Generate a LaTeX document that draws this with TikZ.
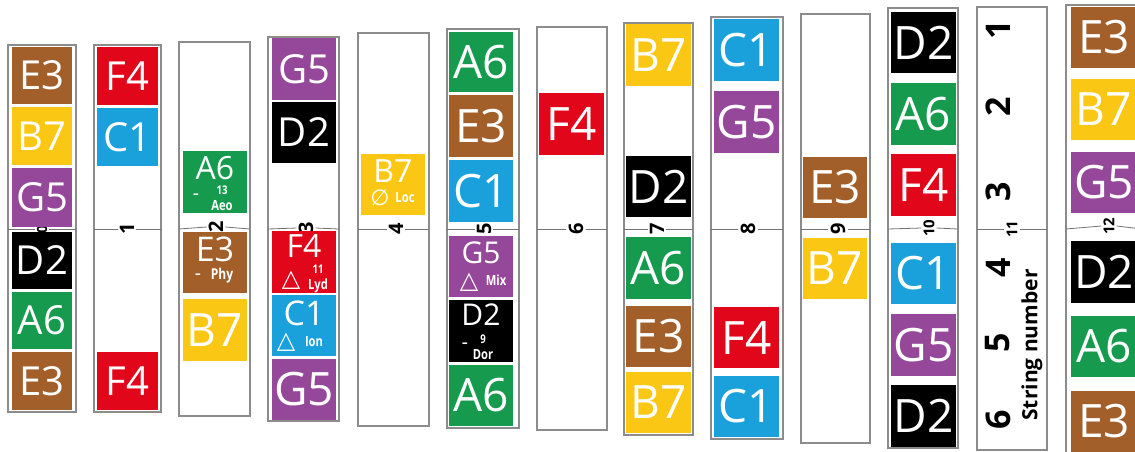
\documentclass[tikz,border=0pt]{standalone}
\usepackage{fontspec}
\setmainfont{Open Sans}
\newfontfamily\annfont[FakeStretch=0.8]{Open Sans}
\newfontfamily\symfont{DejaVu Sans}
\usetikzlibrary{positioning}

\definecolor{noteE}{RGB}{163,95,42}
\definecolor{noteB}{RGB}{250,200,20}
\definecolor{noteG}{RGB}{149,72,153}
\definecolor{noteD}{RGB}{0,0,0}
\definecolor{noteA}{RGB}{22,155,78}
\definecolor{noteF}{RGB}{226,6,26}
\definecolor{noteC}{RGB}{26,160,219}

\tikzset{
  strip/.style={draw=black!45, line width=1.1pt, fill=white},
  cell/.style={rectangle, inner sep=0pt, text=white},
  mid/.style={font=\fontsize{40}{40}\selectfont},
  big/.style={font=\fontsize{46}{46}\selectfont},
  small/.style={text=white, inner sep=0pt, font=\fontsize{32}{32}\selectfont},
  annot/.style={text=white, inner sep=0pt, font=\annfont\bfseries\fontsize{14}{14}\selectfont},
  stack/.style={annot, align=center},
  sym/.style={text=white, inner sep=0pt, font=\symfont\fontsize{24}{24}\selectfont},
  fret/.style={rotate=90, inner sep=2pt, font=\bfseries\fontsize{20}{20}\selectfont},
  fretsm/.style={rotate=90, inner sep=2pt, font=\bfseries\fontsize{15}{15}\selectfont},
  strnum/.style={rotate=90, inner sep=0pt, font=\bfseries\fontsize{34}{34}\selectfont},
  fretline/.style={draw=black!55, line width=0.8pt},
}
\newcommand\upper[1]{{\fontsize{12}{12}\selectfont #1}}

\begin{document}
\begin{tikzpicture}[x=1pt, y=-1pt]
    \useasboundingbox (0,0) rectangle (1135,451);
    \clip (0,0) rectangle (1135,451);

    % Strips
    \draw[strip] (8,45) rectangle (76,412);
    \draw[strip] (94,45) rectangle (161,412);
    \draw[strip] (179,42) rectangle (250,416);
    \draw[strip] (268,37) rectangle (339,421);
    \draw[strip] (358,33) rectangle (429,426);
    \draw[strip] (447,29) rectangle (519,428);
    \draw[strip] (537,27) rectangle (607,430);
    \draw[strip] (624,23) rectangle (693,435);
    \draw[strip] (711,17) rectangle (783,439);
    \draw[strip] (801,14) rectangle (870,443);
    \draw[strip] (888,8) rectangle (958,448);
    \draw[strip] (977,7) rectangle (1047,450);
    \draw[strip] (1066,5) rectangle (1142,460);

    % Fret numbers on the middle line
    \node[fret, font=\bfseries\fontsize{14}{14}\selectfont] (f0) at (42,229) {0};
    \node[fret] (f1) at (127,229) {1};
    \node[fret] (f2) at (216,227) {2};
    \node[fret] (f3) at (306,228) {3};
    \node[fret] (f4) at (396,229) {4};
    \node[fret] (f5) at (484,229) {5};
    \node[fret] (f6) at (576,229) {6};
    \node[fret] (f7) at (657,229) {7};
    \node[fret] (f8) at (748,229) {8};
    \node[fret] (f9) at (838,229) {9};
    \node[fretsm] (f10) at (929,228) {10};
    \node[fretsm] (f11) at (1012,229) {11};
    \node[fretsm] (f12) at (1109,226) {12};

    \draw[fretline] (8,229) -- (f0.north);   \draw[fretline] (f0.south) -- (76,229);
    \draw[fretline] (94,229) -- (f1.north);  \draw[fretline] (f1.south) -- (161,229);
    \draw[fretline] (179,229) -- (f2.north); \draw[fretline] (f2.south) -- (250,229);
    \draw[fretline] (268,229) -- (f3.north); \draw[fretline] (f3.south) -- (339,229);
    \draw[fretline] (358,229) -- (f4.north); \draw[fretline] (f4.south) -- (429,229);
    \draw[fretline] (447,229) -- (f5.north); \draw[fretline] (f5.south) -- (519,229);
    \draw[fretline] (537,229) -- (f6.north); \draw[fretline] (f6.south) -- (607,229);
    \draw[fretline] (624,229) -- (f7.north); \draw[fretline] (f7.south) -- (693,229);
    \draw[fretline] (711,229) -- (f8.north); \draw[fretline] (f8.south) -- (783,229);
    \draw[fretline] (801,229) -- (f9.north); \draw[fretline] (f9.south) -- (870,229);
    \draw[fretline] (888,229) -- (f10.north); \draw[fretline] (f10.south) -- (958,229);
    \draw[fretline] (977,229) -- (f11.north); \draw[fretline] (f11.south) -- (1047,229);
    \draw[fretline] (1066,229) -- (f12.north); \draw[fretline] (f12.south) -- (1142,229);

    % Fret 0
    \node[cell, mid, fill=noteE, minimum width=60, minimum height=57] (c0a) at (42,75.5) {E3};
    \node[cell, mid, fill=noteB, minimum width=60, minimum height=58] (c0b) at (42,136) {B7};
    \node[cell, mid, fill=noteG, minimum width=60, minimum height=59] (c0c) at (42,197.5) {G5};
    \node[cell, mid, fill=noteD, minimum width=60, minimum height=57] (c0d) at (42,260.5) {D2};
    \node[cell, mid, fill=noteA, minimum width=60, minimum height=57] (c0e) at (42,320.5) {A6};
    \node[cell, mid, fill=noteE, minimum width=60, minimum height=58] (c0f) at (42,381) {E3};

    % Fret 1
    \node[cell, mid, fill=noteF, minimum width=61, minimum height=58] (c1a) at (127.5,76) {F4};
    \node[cell, mid, fill=noteC, minimum width=61, minimum height=58] (c1b) at (127.5,137) {C1};
    \node[cell, mid, fill=noteF, minimum width=61, minimum height=58] (c1c) at (127.5,381) {F4};

    % Fret 2
    \node[cell, fill=noteA, minimum width=64, minimum height=62] (c2a) at (215,182) {};
    \node[small] (c2a-t) at (215,168) {A6};
    \node[annot] (c2a-d) at (196,196) {–};
    \node[stack] (c2a-m) at (222,198) {\upper{13}\\[2pt]Aeo};
    \node[cell, fill=noteE, minimum width=64, minimum height=61] (c2b) at (215,262.5) {};
    \node[small, font=\fontsize{34}{34}\selectfont] (c2b-t) at (215,249) {E3};
    \node[annot] (c2b-d) at (198,276) {–};
    \node[annot, font=\annfont\bfseries\fontsize{15}{15}\selectfont] (c2b-m) at (222,276) {Phy};
    \node[cell, big, fill=noteB, minimum width=64, minimum height=62] (c2c) at (215,330) {B7};

    % Fret 3
    \node[cell, mid, fill=noteG, minimum width=64, minimum height=62] (c3a) at (304,69) {G5};
    \node[cell, mid, fill=noteD, minimum width=64, minimum height=61] (c3b) at (304,132.5) {D2};
    \node[cell, fill=noteF, minimum width=64, minimum height=62] (c3c) at (304,262) {};
    \node[small] (c3c-t) at (304,246) {F4};
    \node[sym] (c3c-s) at (291,280) {△};
    \node[stack] (c3c-m) at (318,279) {\upper{11}\\[2pt]Lyd};
    \node[cell, fill=noteC, minimum width=64, minimum height=61] (c3d) at (304,325.5) {};
    \node[small, font=\fontsize{34}{34}\selectfont] (c3d-t) at (304,313) {C1};
    \node[sym] (c3d-s) at (286,342) {△};
    \node[annot] (c3d-m) at (314,342) {Ion};
    \node[cell, big, fill=noteG, minimum width=64, minimum height=61] (c3e) at (304,389.5) {G5};

    % Fret 4
    \node[cell, fill=noteB, minimum width=64, minimum height=61] (c4a) at (393,184.5) {};
    \node[small] (c4a-t) at (393,171) {B7};
    \node[sym, font=\symfont\fontsize{22}{22}\selectfont] (c4a-s) at (380,198) {∅};
    \node[annot] (c4a-m) at (405,198) {Loc};

    % Fret 5
    \node[cell, big, fill=noteA, minimum width=64, minimum height=60] (c5a) at (481,62) {A6};
    \node[cell, big, fill=noteE, minimum width=64, minimum height=62] (c5b) at (481,126) {E3};
    \node[cell, big, fill=noteC, minimum width=64, minimum height=62] (c5c) at (481,191) {C1};
    \node[cell, fill=noteG, minimum width=64, minimum height=61] (c5d) at (481,266.5) {};
    \node[small, font=\fontsize{30}{30}\selectfont] (c5d-t) at (481,253) {G5};
    \node[sym] (c5d-s) at (469,282) {△};
    \node[annot] (c5d-m) at (496,280) {Mix};
    \node[cell, fill=noteD, minimum width=64, minimum height=62] (c5e) at (481,331) {};
    \node[small, font=\fontsize{30}{30}\selectfont] (c5e-t) at (481,315) {D2};
    \node[annot] (c5e-d) at (465,345) {–};
    \node[stack] (c5e-m) at (483,347) {\upper{9}\\[2pt]Dor};
    \node[cell, big, fill=noteA, minimum width=64, minimum height=61] (c5f) at (481,395.5) {A6};

    % Fret 6
    \node[cell, big, fill=noteF, minimum width=65, minimum height=62] (c6a) at (571.5,124) {F4};

    % Fret 7
    \node[cell, big, fill=noteB, minimum width=65, minimum height=62] (c7a) at (658.5,55) {B7};
    \node[cell, big, fill=noteD, minimum width=65, minimum height=61] (c7b) at (658.5,186.5) {D2};
    \node[cell, big, fill=noteA, minimum width=65, minimum height=62] (c7c) at (658.5,268) {A6};
    \node[cell, big, fill=noteE, minimum width=65, minimum height=61] (c7d) at (658.5,336.5) {E3};
    \node[cell, big, fill=noteB, minimum width=65, minimum height=61] (c7e) at (658.5,402.5) {B7};

    % Fret 8
    \node[cell, big, fill=noteC, minimum width=65, minimum height=62] (c8a) at (746.5,50) {C1};
    \node[cell, big, fill=noteG, minimum width=65, minimum height=62] (c8b) at (746.5,122) {G5};
    \node[cell, big, fill=noteF, minimum width=65, minimum height=61] (c8c) at (746.5,337.5) {F4};
    \node[cell, big, fill=noteC, minimum width=65, minimum height=61] (c8d) at (746.5,406.5) {C1};

    % Fret 9
    \node[cell, big, fill=noteE, minimum width=64, minimum height=61] (c9a) at (835,187.5) {E3};
    \node[cell, big, fill=noteB, minimum width=64, minimum height=61] (c9b) at (835,268.5) {B7};

    % Fret 10
    \node[cell, big, fill=noteD, minimum width=65, minimum height=61] (c10a) at (923.5,42.5) {D2};
    \node[cell, big, fill=noteA, minimum width=65, minimum height=62] (c10b) at (923.5,114) {A6};
    \node[cell, big, fill=noteF, minimum width=65, minimum height=62] (c10c) at (923.5,185) {F4};
    \node[cell, big, fill=noteC, minimum width=65, minimum height=61] (c10d) at (923.5,273.5) {C1};
    \node[cell, big, fill=noteG, minimum width=65, minimum height=62] (c10e) at (923.5,345) {G5};
    \node[cell, big, fill=noteD, minimum width=65, minimum height=62] (c10f) at (923.5,416) {D2};

    % String numbers
    \node[strnum] (s1) at (998,30) {1};
    \node[strnum] (s2) at (998,107) {2};
    \node[strnum] (s3) at (998,192) {3};
    \node[strnum] (s4) at (998,268) {4};
    \node[strnum] (s5) at (998,343) {5};
    \node[strnum] (s6) at (998,420) {6};
    \node[rotate=90, inner sep=0pt, font=\bfseries\fontsize{21}{21}\selectfont] (snum) at (1032,345) {String number};

    % Fret 12
    \node[cell, big, fill=noteE, minimum width=66, minimum height=61] (c12a) at (1104,37.5) {E3};
    \node[cell, big, fill=noteB, minimum width=66, minimum height=61] (c12b) at (1104,109.5) {B7};
    \node[cell, big, fill=noteG, minimum width=66, minimum height=61] (c12c) at (1104,182.5) {G5};
    \node[cell, big, fill=noteD, minimum width=66, minimum height=62] (c12d) at (1104,272) {D2};
    \node[cell, big, fill=noteA, minimum width=66, minimum height=61] (c12e) at (1104,346.5) {A6};
    \node[cell, big, fill=noteE, minimum width=66, minimum height=61] (c12f) at (1104,421.5) {E3};
\end{tikzpicture}
\end{document}
